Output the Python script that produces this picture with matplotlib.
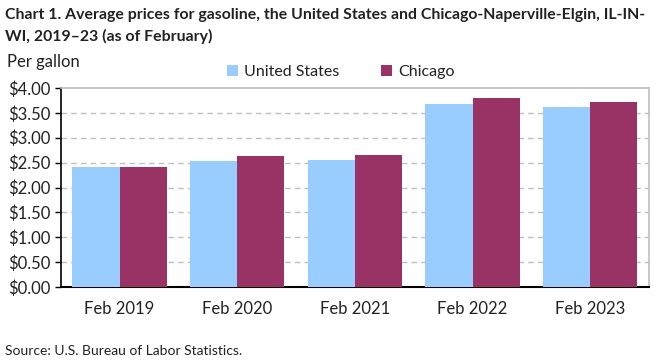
import matplotlib
matplotlib.use("Agg")
import matplotlib.pyplot as plt
import numpy as np

categories = ["Feb 2019", "Feb 2020", "Feb 2021", "Feb 2022", "Feb 2023"]
us_values = [2.41, 2.53, 2.555, 3.68, 3.62]
chicago_values = [2.41, 2.635, 2.655, 3.80, 3.72]
series_names = ["United States", "Chicago"]
yticks = [0, 0.5, 1.0, 1.5, 2.0, 2.5, 3.0, 3.5, 4.0]

plt.rcParams['font.family'] = ['Lato', 'DejaVu Sans']

W, H = 661, 361
fig = plt.figure(figsize=(W/100, H/100), dpi=100)
ax = fig.add_axes([60.7/W, 1 - 287/H, (649 - 60.7)/W, (287 - 88)/H])

x = np.arange(len(categories))
bw = 0.4
ax.bar(x - bw/2, us_values, width=bw, color="#99ccff", label=series_names[0], zorder=3)
ax.bar(x + bw/2, chicago_values, width=bw, color="#993366", label=series_names[1], zorder=3)

ax.set_xlim(-0.5, len(categories) - 0.5)
ax.set_ylim(0, 4)
ax.set_yticks(yticks)
ax.set_yticklabels([f"${v:.2f}" for v in yticks], fontsize=12, color="#222222")
ax.set_xticks(x)
ax.set_xticklabels(categories, fontsize=12, color="#222222")
ax.tick_params(axis='x', length=0, pad=10)
ax.tick_params(axis='y', length=4, width=1, color="black", pad=3)

for v in yticks[1:-1]:
    ax.axhline(v, color="#bfbfbf", lw=1, ls=(0, (4, 3)), zorder=1)

ax.spines['left'].set_color('black')
ax.spines['bottom'].set_color('black')
ax.spines['left'].set_linewidth(1.2)
ax.spines['bottom'].set_linewidth(1.5)
ax.spines['top'].set_color('#bfbfbf')
ax.spines['right'].set_color('#bfbfbf')
ax.spines['top'].set_linewidth(1.2)
ax.spines['right'].set_linewidth(1.2)

fig.text(5/W, 1 - 15/H, "Chart 1. Average prices for gasoline, the United States and Chicago-Naperville-Elgin, IL-IN-",
         fontsize=11.4, fontweight='bold', va='center', ha='left', color="#222222")
fig.text(5/W, 1 - 36/H, "WI, 2019\u201323 (as of February)",
         fontsize=11.4, fontweight='bold', va='center', ha='left', color="#222222")
fig.text(7/W, 1 - 62/H, "Per gallon", fontsize=12, va='center', ha='left', color="#222222")
fig.text(5/W, 1 - 351/H, "Source: U.S. Bureau of Labor Statistics.", fontsize=10, va='center', ha='left', color="#222222")

leg = fig.legend(loc='center', bbox_to_anchor=(341/W, 1 - 72/H), ncol=2, frameon=False,
                 fontsize=11.5, handlelength=0.7, handleheight=0.7, handletextpad=0.4,
                 columnspacing=2.6)
for t in leg.get_texts():
    t.set_color("#222222")

fig.savefig("out.png", dpi=100)
